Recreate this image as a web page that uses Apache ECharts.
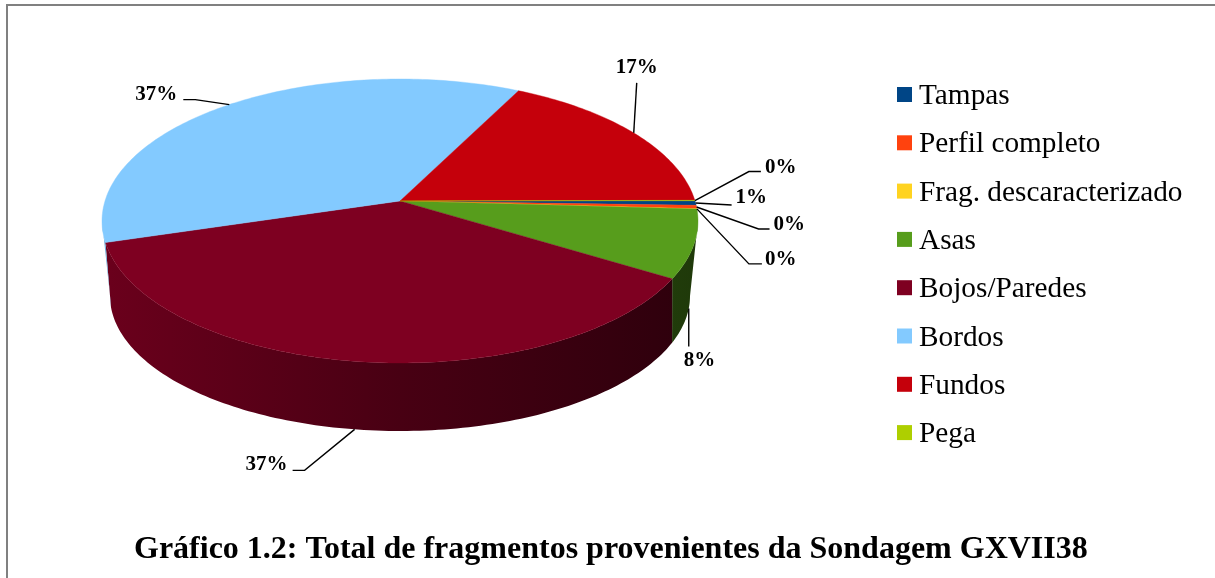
<!DOCTYPE html>
<html>
<head>
<meta charset="utf-8">
<title>Gráfico 1.2</title>
<script src="https://cdn.jsdelivr.net/npm/echarts@6/dist/echarts.min.js"></script>
<style>
  html, body { margin: 0; padding: 0; background: #fff; }
  #chart { width: 1215px; height: 578px; }
</style>
</head>
<body>
<div id="chart"></div>
<script>
const categories = ['Tampas', 'Perfil completo', 'Frag. descaracterizado', 'Asas', 'Bojos/Paredes', 'Bordos', 'Fundos', 'Pega']
const values = [0.52, 0.38, 0.05, 7.75, 36.7, 37.1, 17.45, 0.05]
const colors = ['#004586', '#ff420e', '#ffd320', '#579d1c', '#7e0021', '#83caff', '#c5000b', '#aecf00']
const titleText = 'Gráfico 1.2: Total de fragmentos provenientes da Sondagem GXVII38'

const FONT = '"Liberation Serif", "Times New Roman", serif'

// pie drawn in perspective: each rim is an ellipse, y0 moves the pie centre off the ellipse centre
const topRim = { cx: 400, cy: 221, rx: 298, ry: 142, y0: -0.141 }
const bottomRim = { cx: 400, cy: 296, rx: 290, ry: 135, y0: -0.21 }
const START_ANGLE = -0.1

// leader lines, relative to the point on the rim: elbow, stub after it, text offset after the stub
const leaders = [
  { elbow: [36, 2], stub: 0, text: [4, -7], align: 'left' },
  { elbow: [62, 22], stub: 11, text: [4, -4], align: 'left' },
  { elbow: [52, 55], stub: 13, text: [3, -4], align: 'left' },
  { elbow: [0, 38], stub: 0, text: [-5, 14], align: 'left', onBottom: true },
  { elbow: [-50, 41], stub: -12, text: [-5, -6], align: 'right', onBottom: true },
  { elbow: [-34, -5], stub: -12, text: [-6, -5], align: 'right' },
  { elbow: [3, -50], stub: 0, text: [0, -15], align: 'center' },
  { elbow: [54, -29], stub: 12, text: [4, -4], align: 'left' }
]

const total = values.reduce((a, b) => a + b, 0)
const sliceAngles = []
values.reduce((acc, v) => {
  const end = acc + v / total * 360
  sliceAngles.push([acc, end])
  return end
}, START_ANGLE)

function rimPoint(rim, deg) {
  const a = deg * Math.PI / 180
  const u = Math.cos(a)
  const v = Math.sin(a)
  const d = 1 + rim.y0 * v
  const X = u * Math.sqrt(1 - rim.y0 * rim.y0) / d
  const Y = (v + rim.y0) / d
  return [rim.cx + X * rim.rx, rim.cy + Y * rim.ry]
}

function shade(hex, f) {
  const n = parseInt(hex.slice(1), 16)
  const c = [(n >> 16) & 255, (n >> 8) & 255, n & 255].map(x => Math.round(x * f))
  return 'rgb(' + c.join(',') + ')'
}

function arc(rim, a0, a1, stepDeg) {
  const steps = Math.max(2, Math.ceil(Math.abs(a1 - a0) / stepDeg))
  const pts = []
  for (let s = 0; s <= steps; s++) {
    pts.push(rimPoint(rim, a0 + (a1 - a0) * s / steps))
  }
  return pts
}

// part of a slice's rim on the front of the pie, between the left and right extremes of the ellipse
function frontRange(rim, a0, a1) {
  const edge = Math.asin(-rim.y0) * 180 / Math.PI
  return [Math.max(a0, edge), Math.min(a1, 180 - edge)]
}

function renderTop(params, api) {
  const i = api.value(0)
  const [a0, a1] = sliceAngles[i]
  const apex = [topRim.cx, topRim.cy + topRim.y0 * topRim.ry]
  return {
    type: 'polygon',
    shape: { points: [apex].concat(arc(topRim, a0, a1, 1)) },
    style: { fill: colors[i], stroke: colors[i], lineWidth: 0.4 }
  }
}

function renderWall(params, api) {
  const i = api.value(0)
  const t = frontRange(topRim, sliceAngles[i][0], sliceAngles[i][1])
  const b = frontRange(bottomRim, sliceAngles[i][0], sliceAngles[i][1])
  if (t[1] <= t[0] || b[1] <= b[0]) return { type: 'group', children: [] }
  const points = arc(topRim, t[0], t[1], 1).concat(arc(bottomRim, b[1], b[0], 1))
  // wall lighting runs from left (lit) to right (dark)
  const fill = new echarts.graphic.LinearGradient(topRim.cx - topRim.rx, 0, topRim.cx + topRim.rx, 0, [
    { offset: 0, color: shade(colors[i], 0.85) },
    { offset: 0.5, color: shade(colors[i], 0.57) },
    { offset: 1, color: shade(colors[i], 0.36) }
  ], true)
  return {
    type: 'polygon',
    shape: { points: points },
    style: { fill: fill }
  }
}

function renderLeader(params, api) {
  const i = api.value(0)
  const l = leaders[i]
  const mid = (sliceAngles[i][0] + sliceAngles[i][1]) / 2
  const start = rimPoint(l.onBottom ? bottomRim : topRim, mid)
  const elbow = [start[0] + l.elbow[0], start[1] + l.elbow[1]]
  const end = [elbow[0] + l.stub, elbow[1]]
  return {
    type: 'group',
    children: [{
      type: 'polyline',
      shape: { points: [start, elbow, end] },
      style: { fill: null, stroke: '#000', lineWidth: 1.4 }
    }, {
      type: 'text',
      style: {
        x: end[0] + l.text[0],
        y: end[1] + l.text[1],
        text: Math.round(values[i] / total * 100) + '%',
        font: 'bold 21px ' + FONT,
        fill: '#000',
        align: l.align,
        verticalAlign: 'middle'
      }
    }]
  }
}

const series = [{
  type: 'custom',
  coordinateSystem: 'none',
  z: 1,
  silent: true,
  animation: false,
  data: categories.map((c, i) => [i, values[i]]),
  renderItem: renderWall
}]
categories.forEach((name, i) => {
  series.push({
    name: name,
    type: 'custom',
    coordinateSystem: 'none',
    z: 2,
    silent: true,
    animation: false,
    itemStyle: { color: colors[i] },
    data: [[i, values[i]]],
    renderItem: renderTop
  })
})
series.push({
  type: 'custom',
  coordinateSystem: 'none',
  z: 3,
  silent: true,
  animation: false,
  data: categories.map((c, i) => [i, values[i]]),
  renderItem: renderLeader
})

const chart = echarts.init(document.getElementById('chart'))
chart.setOption({
  animation: false,
  backgroundColor: '#fff',
  title: {
    text: titleText,
    left: 134,
    top: 534,
    padding: 0,
    textStyle: { fontFamily: FONT, fontSize: 32, fontWeight: 'bold', color: '#000' }
  },
  legend: {
    data: categories,
    orient: 'vertical',
    left: 897,
    top: 82,
    padding: 0,
    itemWidth: 15,
    itemHeight: 15,
    itemGap: 19.3,
    icon: 'rect',
    selectedMode: false,
    formatter: '{t|{name}}',
    textStyle: {
      rich: {
        t: { fontFamily: FONT, fontSize: 29.3, color: '#000', padding: [4, 0, 0, 2] }
      }
    }
  },
  graphic: [
    { type: 'line', shape: { x1: 6, y1: 5, x2: 1215, y2: 5 }, style: { stroke: '#808080', lineWidth: 2 } },
    { type: 'line', shape: { x1: 7, y1: 4, x2: 7, y2: 578 }, style: { stroke: '#808080', lineWidth: 2 } }
  ],
  series: series
})
</script>
</body>
</html>
